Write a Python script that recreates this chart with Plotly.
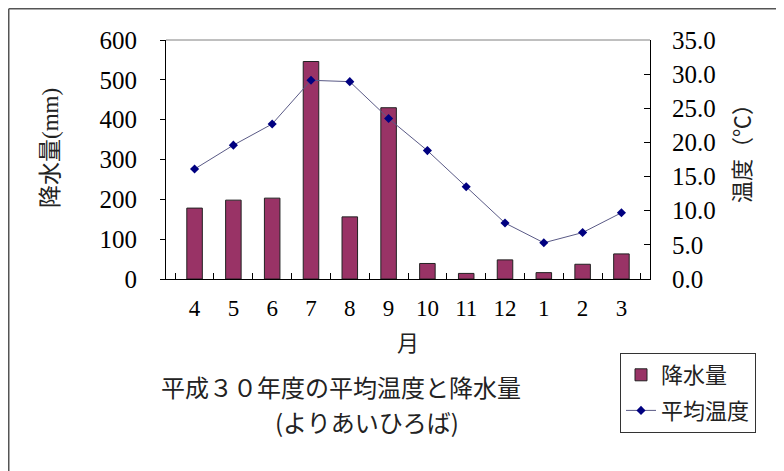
import plotly.graph_objects as go

months = ["4", "5", "6", "7", "8", "9", "10", "11", "12", "1", "2", "3"]
precip_mm = [178, 198, 203, 546, 156, 430, 39, 14, 48, 16, 37, 63]
temp_c = [16.1, 19.6, 22.7, 29.1, 28.9, 23.5, 18.8, 13.5, 8.2, 5.3, 6.8, 9.7]
precip_ticks = [0, 100, 200, 300, 400, 500, 600]
temp_ticks = [0, 5, 10, 15, 20, 25, 30, 35]

OFF = 8  # page body margin
W, H = 784 - OFF, 471 - OFF
PL, PR, PT, PB = 166, 650, 40, 279  # plot area in page pixels
L, R, T, B = PL - OFF, W - (PR - OFF), PT - OFF, H - (PB - OFF)
pw, ph = PR - PL, PB - PT


def px_x(p):
    return (p - PL) / pw


def px_y(p):
    return (PB - p) / ph


serif = "Liberation Serif, Noto Sans CJK JP, serif"
cjk = "Noto Sans CJK JP, sans-serif"

fig = go.Figure()
fig.add_trace(go.Bar(
    x=months, y=precip_mm, name="降水量",
    marker=dict(color="#993366", line=dict(color="#222222", width=1)),
    legendgroup="a",
))
fig.add_trace(go.Scatter(
    x=months, y=temp_c, name="平均温度", yaxis="y2",
    mode="lines+markers",
    line=dict(color="#5a5a86", width=1),
    marker=dict(symbol="diamond", color="#000080", size=7),
    legendgroup="b",
))


def ann(text, x, y, size, family, angle=0):
    return dict(text=text, xref="paper", yref="paper", x=px_x(x), y=px_y(y),
                xanchor="center", yanchor="middle", showarrow=False,
                textangle=angle, font=dict(family=family, size=size, color="#222222"))


edge_x = OFF + 0.75
edge_y = OFF + 0.75

fig.update_layout(
    width=W, height=H,
    margin=dict(l=L, r=R, t=T, b=B, autoexpand=False),
    paper_bgcolor="white", plot_bgcolor="white",
    bargap=0.6,
    showlegend=True,
    legend=dict(
        x=px_x(620), y=px_y(353), xanchor="left", yanchor="top",
        bordercolor="#333333", borderwidth=1, bgcolor="white",
        font=dict(family=cjk, size=22, color="#222222"),
        traceorder="grouped", tracegroupgap=4,
    ),
    xaxis=dict(
        type="category", categoryorder="array", categoryarray=months,
        showline=True, linecolor="black", linewidth=1,
        ticks="inside", ticklen=6, tickcolor="black", tickson="boundaries",
        showgrid=False, zeroline=False,
        tickfont=dict(family=serif, size=23, color="black"),
        ticklabelstandoff=8,
    ),
    yaxis=dict(
        range=[0, 600], tickvals=precip_ticks,
        showline=True, linecolor="black", linewidth=1,
        ticks="outside", ticklen=5, tickcolor="black",
        showgrid=False, zeroline=False,
        tickfont=dict(family=serif, size=25, color="black"),
        ticklabelstandoff=18,
    ),
    yaxis2=dict(
        range=[0, 35], tickvals=temp_ticks, tickformat=".1f",
        overlaying="y", side="right",
        showline=True, linecolor="black", linewidth=1,
        ticks="inside", ticklen=6, tickcolor="black",
        showgrid=False, zeroline=False,
        tickfont=dict(family=serif, size=25, color="black"),
        ticklabelstandoff=16,
    ),
    shapes=[
        dict(type="line", xref="paper", yref="paper", x0=0, x1=1, y0=1, y1=1,
             line=dict(color="#808080", width=1)),
        dict(type="line", xref="paper", yref="paper",
             x0=px_x(edge_x), x1=px_x(edge_x), y0=px_y(edge_y), y1=px_y(480),
             line=dict(color="#555555", width=1.5)),
        dict(type="line", xref="paper", yref="paper",
             x0=px_x(edge_x), x1=px_x(800), y0=px_y(edge_y), y1=px_y(edge_y),
             line=dict(color="#555555", width=1.5)),
    ],
    annotations=[
        ann("降水量(mm)", 50, 148, 23, serif, -90),
        ann("温度（℃）", 740, 148, 22, cjk, -90),
        ann("月", 408, 341, 22, cjk),
        ann("平成３０年度の平均温度と降水量", 341, 386, 24, cjk),
        ann("(よりあいひろば)", 367, 422, 24, cjk),
    ],
)

fig.write_html("out.html")
